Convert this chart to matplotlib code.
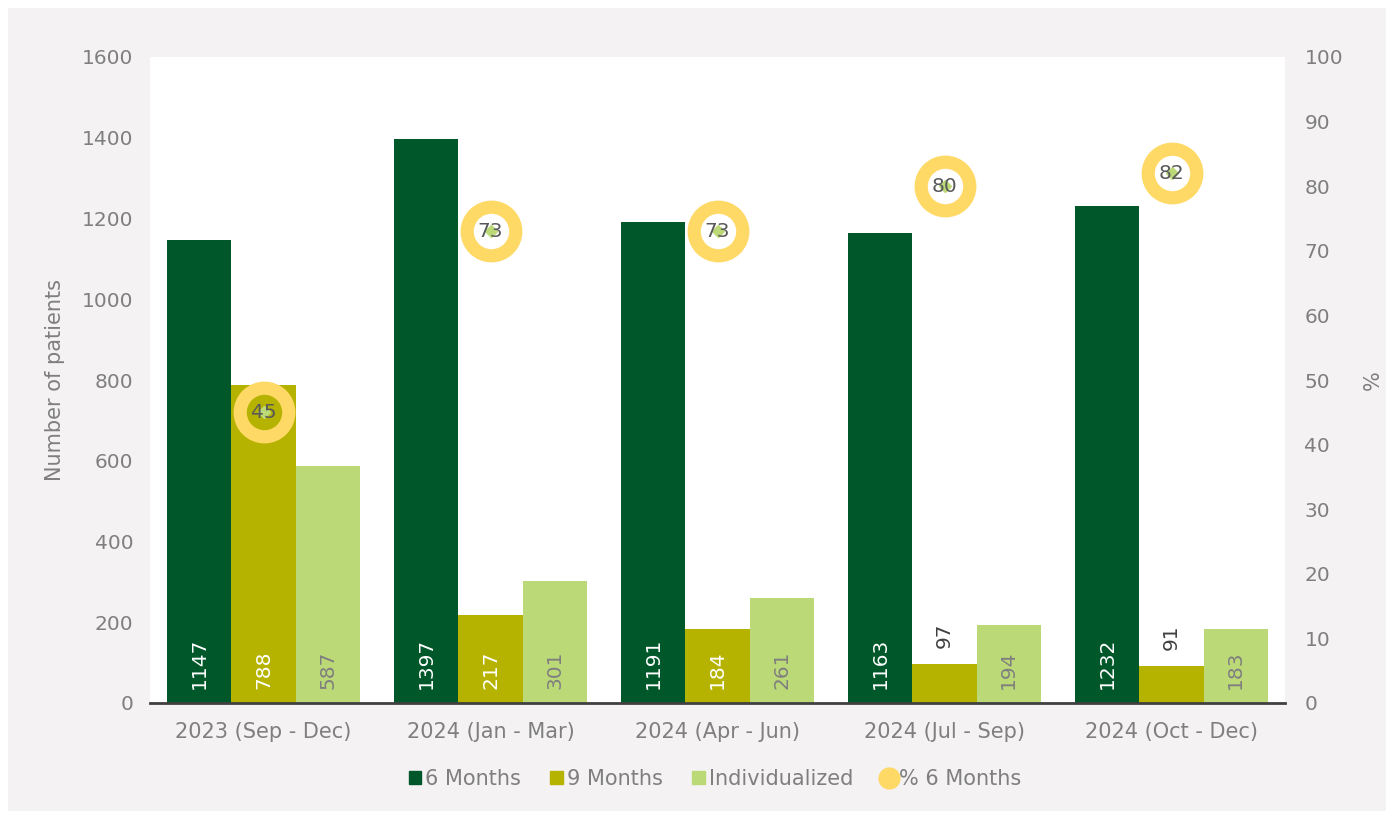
import numpy as np
import matplotlib
matplotlib.use('Agg')
import matplotlib.pyplot as plt
from matplotlib.patches import Rectangle
from matplotlib.lines import Line2D

plt.rcParams['font.family'] = ['DejaVu Sans']

## data
periods = ['2023 (Sep - Dec)', '2024 (Jan - Mar)', '2024 (Apr - Jun)',
           '2024 (Jul - Sep)', '2024 (Oct - Dec)']
six_months = [1147, 1397, 1191, 1163, 1232]
nine_months = [788, 217, 184, 97, 91]
individualized = [587, 301, 261, 194, 183]
pct_six = [45, 73, 73, 80, 82]

c_dark = '#00572A'
c_olive = '#B6B300'
c_light = '#BCD978'
c_yellow = '#FFD966'
grey = '#7F7F7F'

fig = plt.figure(figsize=(13.94, 8.19), dpi=100, facecolor='white')
fig.patches.append(Rectangle((8/1394, 8/819), 1 - 16/1394, 1 - 16/819,
                             transform=fig.transFigure, facecolor='#F4F2F3',
                             edgecolor='none', zorder=-10))
ax = fig.add_axes([150/1394, 116/819, 1135/1394, 646/819])
ax.set_facecolor('white')

x = np.arange(len(periods))
w = 0.283
series = [(six_months, c_dark, 'white', '6 Months'),
          (nine_months, c_olive, 'white', '9 Months'),
          (individualized, c_light, grey, 'Individualized')]
for k, (vals, col, tcol, lab) in enumerate(series):
    pos = x + (k - 1) * w
    ax.bar(pos, vals, width=w, color=col, label=lab, zorder=2)
    for p, v in zip(pos, vals):
        if v < 150:
            ax.text(p, v + 40, str(v), rotation=90, ha='center', va='bottom',
                    color='#404040', fontsize=14.5, zorder=5)
        else:
            ax.text(p, 35, str(v), rotation=90, ha='center', va='bottom',
                    color=tcol, fontsize=14.5, zorder=5)

ax.set_xlim(-0.5, len(periods) - 0.5)
ax.set_ylim(0, 1600)
ax.set_yticks(np.arange(0, 1601, 200))
ax.set_xticks(x)
ax.set_xticklabels(periods, fontsize=15)
ax.set_ylabel('Number of patients', color=grey, fontsize=15, labelpad=12)
ax.tick_params(axis='both', length=0, colors=grey, labelsize=14.5, pad=12)
ax.tick_params(axis='x', labelsize=15, pad=14)
for s in ['top', 'right', 'left']:
    ax.spines[s].set_visible(False)
ax.spines['bottom'].set_color('#404040')
ax.spines['bottom'].set_linewidth(2)

ax2 = ax.twinx()
ax2.set_ylim(0, 100)
ax2.set_yticks(np.arange(0, 101, 10))
ax2.set_ylabel('%', color=grey, fontsize=15, labelpad=14)
ax2.tick_params(axis='y', length=0, colors=grey, labelsize=14.5, pad=14)
for s in ax2.spines.values():
    s.set_visible(False)
ax2.plot(x, pct_six, linestyle='none', marker='o', markersize=35,
         markerfacecolor='none', markeredgecolor=c_yellow,
         markeredgewidth=9.5, zorder=3)
ax2.plot(x, pct_six, linestyle='none', marker='D', markersize=6,
         color=c_light, zorder=4)
for xi, v in zip(x, pct_six):
    ax2.text(xi, v, str(v), ha='center', va='center', color='#595959',
             fontsize=14.5, zorder=5)

handles = [Rectangle((0, 0), 1, 1, color=c_dark),
           Rectangle((0, 0), 1, 1, color=c_olive),
           Rectangle((0, 0), 1, 1, color=c_light),
           Line2D([], [], linestyle='none', marker='o', markersize=15,
                  markerfacecolor=c_yellow, markeredgecolor=c_yellow)]
labels = ['6 Months', '9 Months', 'Individualized', '% 6 Months']
leg = fig.legend(handles, labels, loc='center', bbox_to_anchor=(715/1394, 1 - 779/819),
                 ncol=4, frameon=False, fontsize=15, handlelength=0.6,
                 handleheight=0.6, handletextpad=0.2, columnspacing=1.4)
for t in leg.get_texts():
    t.set_color(grey)

fig.savefig('out.png', dpi=100, facecolor=fig.get_facecolor())
